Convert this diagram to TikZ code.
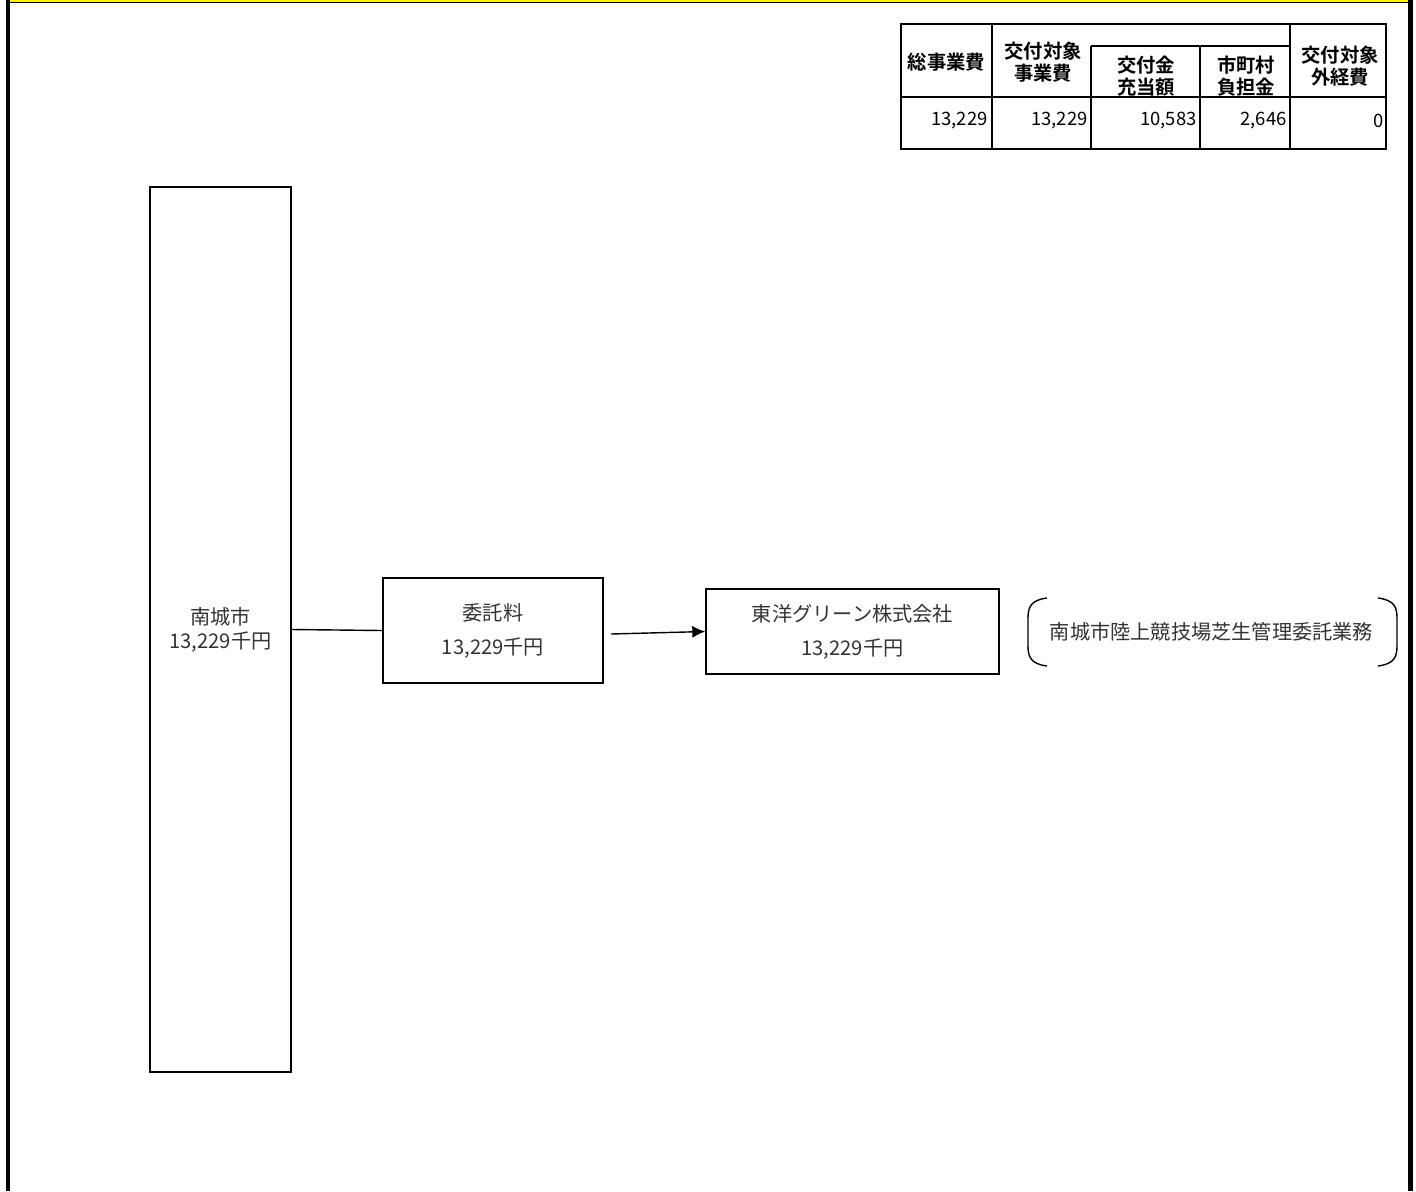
\documentclass[tikz,border=0pt]{standalone}
\usepackage{fontspec}
\setmainfont{Noto Sans CJK JP}[BoldFont={Noto Sans CJK JP Bold}]
\usepackage{tikz}
\usetikzlibrary{arrows.meta,positioning,calc}

\tikzset{
  box/.style={draw=black, line width=0.8pt, align=center, inner sep=0pt,
    font=\fontsize{11.5}{19.3}\selectfont, text=black!80},
  tbl/.style={line width=1.1pt},
  hd/.style={align=center, inner sep=0pt, font=\fontsize{11}{12.2}\selectfont\bfseries},
  num/.style={anchor=east, inner sep=0pt, font=\fontsize{10.5}{12}\selectfont}
}

\begin{document}
\begin{tikzpicture}[x=0.02cm, y=-0.02cm]
  \useasboundingbox (0,0) rectangle (1416,1191);
  % frame
  \fill[yellow] (6,0) rectangle (1413,2);
  \draw[line width=0.6pt] (6,2.5) -- (1413,2.5);
  \fill[black] (6,0) rectangle (10,1191);
  \fill[black] (1408,0) rectangle (1413,1191);

  % table
  \draw[tbl] (901,24) rectangle (1386,149);
  \draw[tbl] (901,97) -- (1386,97);
  \draw[tbl] (992,24) -- (992,149);
  \draw[tbl] (1290,24) -- (1290,149);
  \draw[tbl] (1091,46) -- (1290,46);
  \draw[tbl] (1091,46) -- (1091,149);
  \draw[tbl] (1200,46) -- (1200,149);
  \node[hd] (h1) at (946.5,62) {総事業費};
  \node[hd] (h2) at (1043,62) {交付対象\\事業費};
  \node[hd] (h3) at (1146,76) {交付金\\充当額};
  \node[hd] (h4) at (1246,76) {市町村\\負担金};
  \node[hd] (h5) at (1340,66) {交付対象\\外経費};
  \node[num] (n1) at (988,121) {13,229};
  \node[num] (n2) at (1088,121) {13,229};
  \node[num] (n3) at (1197,121) {10,583};
  \node[num] (n4) at (1287,121) {2,646};
  \node[num] (n5) at (1384,121) {0};

  % flow
  \node[box, minimum width=2.82cm, minimum height=17.7cm,
    font=\fontsize{11.5}{13.6}\selectfont] (city) at (220.5,629.5) {南城市\\13,229千円};
  \node[box, minimum width=4.4cm, minimum height=2.1cm] (fee) at (493,630.5) {委託料\\13,229千円};
  \node[box, minimum width=5.86cm, minimum height=1.7cm] (firm) at (852.5,631.5) {東洋グリーン株式会社\\13,229千円};
  \coordinate (start) at (611,634);
  \path [-,line width=0.8pt](city.east) edge node {} (fee.west);
  \path [-{Latex[length=0.26cm,width=0.24cm]},line width=0.8pt](start) edge node {} (firm.west);

  % work name in brackets
  \node[inner sep=0pt, font=\fontsize{11.5}{14}\selectfont, text=black!80] (work) at (1211.5,632) {南城市陸上競技場芝生管理委託業務};
  \draw[line width=0.8pt] (1047,598) .. controls (1031,600) and (1028,607) .. (1028,618)
    -- (1028,646) .. controls (1028,657) and (1031,664) .. (1047,666);
  \draw[line width=0.8pt] (1378,598) .. controls (1394,600) and (1397,607) .. (1397,618)
    -- (1397,646) .. controls (1397,657) and (1394,664) .. (1378,666);
\end{tikzpicture}
\end{document}
